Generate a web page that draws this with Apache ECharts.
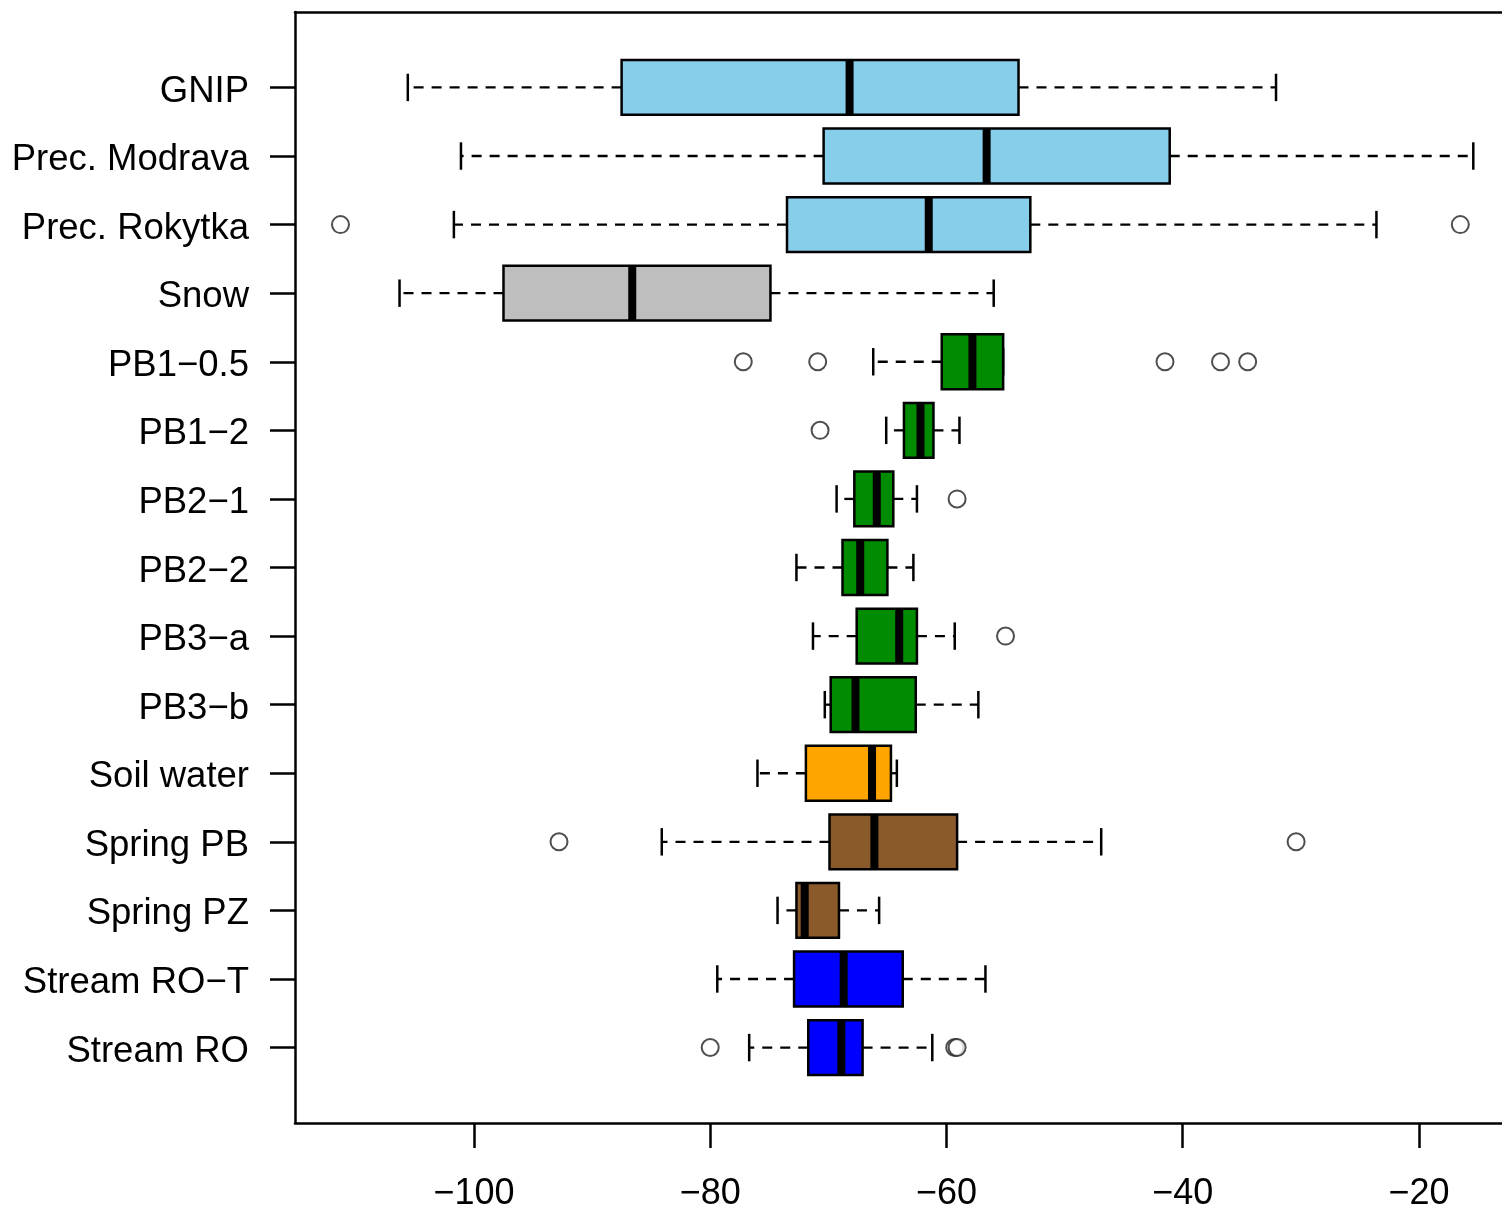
<!DOCTYPE html>
<html><head><meta charset="utf-8">
<script src="https://cdn.jsdelivr.net/npm/echarts@6/dist/echarts.min.js"></script>
<style>html,body{margin:0;padding:0;background:#fff}#c{width:1502px;height:1208px}</style>
</head><body><div id="c"></div>
<script>
const categories = ['GNIP','Prec. Modrava','Prec. Rokytka','Snow','PB1\u22120.5','PB1\u22122','PB2\u22121','PB2\u22122','PB3\u2212a','PB3\u2212b','Soil water','Spring PB','Spring PZ','Stream RO\u2212T','Stream RO'];
const whiskerLow  = [-105.6,-101.1,-101.7,-106.3,-66.2,-65.1,-69.3,-72.7,-71.3,-70.3,-76.0,-84.1,-74.3,-79.4,-76.7];
const q1          = [-87.5,-70.4,-73.5,-97.5,-60.4,-63.6,-67.8,-68.8,-67.6,-69.8,-71.9,-69.9,-72.7,-72.9,-71.7];
const median      = [-68.2,-56.6,-61.5,-86.6,-57.8,-62.2,-65.9,-67.3,-64.0,-67.7,-66.3,-66.1,-72.0,-68.7,-68.9];
const q3          = [-53.9,-41.1,-52.9,-74.9,-55.2,-61.1,-64.5,-65.0,-62.5,-62.6,-64.7,-59.1,-69.1,-63.7,-67.1];
const whiskerHigh = [-32.1,-15.4,-23.6,-56.0,-55.2,-58.9,-62.5,-62.8,-59.3,-57.3,-64.2,-46.9,-65.7,-56.7,-61.2];
const outlierValues = [[],[],[-111.3,-16.5],[],[-77.2,-70.9,-41.5,-36.8,-34.5],[-70.7],[-59.1],[],[-55.0],[],[],[-92.8,-30.4],[],[],[-80.0,-59.3,-59.1]];
const xTickValues = [-100,-80,-60,-40,-20];

const boxColors = ['#87CEEB','#87CEEB','#87CEEB','#BEBEBE','#008B00','#008B00','#008B00','#008B00','#008B00','#008B00','#FFA500','#8B5A2B','#8B5A2B','#0000FF','#0000FF'];

const boxData = categories.map((c, i) => [i + 1, whiskerLow[i], q1[i], median[i], q3[i], whiskerHigh[i]]);
const outlierData = [];
outlierValues.forEach((arr, i) => arr.forEach(v => outlierData.push([v, i + 1])));
const yPositions = categories.map((c, i) => i + 1);

function renderBox(params, api) {
  const y = api.value(0);
  const pWL = api.coord([api.value(1), y]);
  const pLo = api.coord([api.value(2), y]);
  const pMd = api.coord([api.value(3), y]);
  const pHi = api.coord([api.value(4), y]);
  const pWH = api.coord([api.value(5), y]);
  const half = api.size([0, 0.4])[1];
  const cap = api.size([0, 0.2])[1];
  const cy = pLo[1];
  const dash = {stroke:'#000', lineWidth:2.3, lineDash:[10,8], fill:null};
  const solid = {stroke:'#000', lineWidth:2.5, fill:null};
  return {type:'group', children:[
    {type:'line', shape:{x1:pLo[0], y1:cy, x2:pWL[0], y2:cy}, style:dash},
    {type:'line', shape:{x1:pHi[0], y1:cy, x2:pWH[0], y2:cy}, style:dash},
    {type:'line', shape:{x1:pWL[0], y1:cy-cap, x2:pWL[0], y2:cy+cap}, style:solid},
    {type:'line', shape:{x1:pWH[0], y1:cy-cap, x2:pWH[0], y2:cy+cap}, style:solid},
    {type:'rect', shape:{x:pLo[0], y:cy-half, width:pHi[0]-pLo[0], height:2*half}, style:{fill:boxColors[params.dataIndex], stroke:'#000', lineWidth:2.5}},
    {type:'line', shape:{x1:pMd[0], y1:cy-half, x2:pMd[0], y2:cy+half}, style:{stroke:'#000', lineWidth:8, lineCap:'butt'}}
  ]};
}

const chart = echarts.init(document.getElementById('c'), null, {renderer:'canvas'});
const font = 'Liberation Sans, Arial, sans-serif';
const xMin = -115.15, xMax = -12.97;
chart.setOption({
  animation:false,
  backgroundColor:'#fff',
  grid:{left:295, right:0, top:12, bottom:85, show:false, containLabel:false, outerBoundsMode:'none'},
  xAxis:[
    {type:'value', min:xMin, max:xMax, position:'bottom',
      axisLine:{show:true, onZero:false, lineStyle:{color:'#000', width:2.5}},
      axisTick:{show:true, customValues:xTickValues, length:25, lineStyle:{color:'#000', width:2.5}},
      axisLabel:{customValues:xTickValues, margin:53, color:'#000', fontSize:36, fontFamily:font, formatter:v => String(v).replace('-', '\u2212')},
      splitLine:{show:false}},
    {type:'value', min:xMin, max:xMax, position:'top',
      axisLine:{show:true, onZero:false, lineStyle:{color:'#000', width:2.5}},
      axisTick:{show:false}, axisLabel:{show:false}, splitLine:{show:false}}
  ],
  yAxis:{type:'value', inverse:true, min:-0.1, max:16.1,
    axisLine:{show:true, onZero:false, lineStyle:{color:'#000', width:2.5}},
    axisTick:{show:true, customValues:yPositions, length:25, lineStyle:{color:'#000', width:2.5}},
    axisLabel:{customValues:yPositions, margin:46, color:'#000', fontSize:36, fontFamily:font,
      formatter:v => '{a|' + (categories[Math.round(v) - 1] || '') + '}',
      rich:{a:{fontSize:36.5, fontFamily:font, color:'#000', padding:[8,0,0,0]}}},
    splitLine:{show:false}},
  series:[
    {type:'custom', renderItem:renderBox, data:boxData, encode:{x:[1,2,3,4,5], y:0}, clip:false},
    {type:'scatter', data:outlierData, symbol:'emptyCircle', symbolSize:17, itemStyle:{color:'#222', borderColor:'#222', borderWidth:2}}
  ]
});
</script></body></html>
